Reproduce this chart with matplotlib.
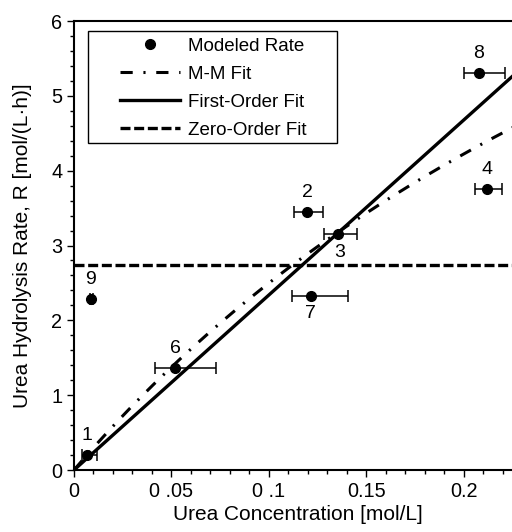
import numpy as np
import matplotlib
matplotlib.use("Agg")
import matplotlib.pyplot as plt
from matplotlib.patches import Rectangle
from matplotlib.lines import Line2D
from matplotlib.ticker import MultipleLocator

plt.rcParams['font.family'] = ['Liberation Sans', 'DejaVu Sans']

# ---------- data ----------
sample_id = ["1", "9", "6", "2", "3", "7", "8", "4"]
conc = [0.0067, 0.0087, 0.0518, 0.1195, 0.1354, 0.1215, 0.2077, 0.2118]
rate = [0.20, 2.29, 1.36, 3.45, 3.155, 2.33, 5.31, 3.76]
conc_lo = [0.0040, 0.0080, 0.0415, 0.1128, 0.1280, 0.1120, 0.2000, 0.2056]
conc_hi = [0.0120, 0.0095, 0.0728, 0.1277, 0.1450, 0.1405, 0.2210, 0.2195]

# fit parameters
vmax_mm = 13.66      # M-M Vmax
km_mm = 0.4466       # M-M Km
k_first = 23.4       # first-order rate constant
r_zero = 2.74        # zero-order rate

MM_DASH = (4, 3.5, 0.7, 3.5)
ZO_DASH = (3.0, 1.1)

XMAX = 0.23
fig = plt.figure(figsize=(5.12, 5.32), dpi=100)
ax = fig.add_axes([0.1445, 0.1165, XMAX * 1950 / 512, 0.844])

c = np.linspace(0, XMAX, 200)
ax.plot(c, vmax_mm * c / (km_mm + c), color="black", lw=2.2, dashes=MM_DASH)
ax.plot(c, k_first * c, color="black", lw=2.4)
ax.axhline(r_zero, color="black", lw=2.4, dashes=ZO_DASH)

conc = np.array(conc)
xerr = np.vstack([conc - np.array(conc_lo), np.array(conc_hi) - conc])
ax.errorbar(conc, rate, xerr=xerr, fmt="o", color="black", ms=7,
            elinewidth=1.1, capsize=4, capthick=1.1, zorder=5)

for sid, x, y in zip(sample_id, conc, rate):
    if sid == "3":
        off = (1, -13.5)
    elif sid == "7":
        off = (0, -13)
    else:
        off = (0, 14)
    ax.annotate(sid, (x, y), xytext=off, textcoords="offset points",
                ha="center", va="center", fontsize=14)

ax.set_xlim(0, XMAX)
ax.set_ylim(0, 6)
ax.xaxis.set_minor_locator(MultipleLocator(0.01))
ax.yaxis.set_major_locator(MultipleLocator(1))
ax.yaxis.set_minor_locator(MultipleLocator(0.2))
ax.set_xticks([0, 0.05, 0.1, 0.15, 0.2])
ax.set_xticklabels(["0", "0 .05", "0 .1", "0.15", "0.2"])

for s in ax.spines.values():
    s.set_linewidth(1.5)
ax.spines["right"].set_visible(False)
ax.tick_params(which="major", direction="out", length=5, width=1.0,
               labelsize=14.3, pad=3.5)
ax.tick_params(which="minor", direction="out", length=3, width=1.0)

ax.set_xlabel("Urea Concentration [mol/L]", fontsize=15, labelpad=3)
ax.set_ylabel("Urea Hydrolysis Rate, R [mol/(L\u00b7h)]", fontsize=15, labelpad=14)

# legend
handles = [
    Line2D([], [], ls="none", marker="o", color="black", ms=7),
    Line2D([], [], color="black", lw=2.2, dashes=MM_DASH),
    Line2D([], [], color="black", lw=2.4),
    Line2D([], [], color="black", lw=2.4, dashes=ZO_DASH),
]
names = ["Modeled Rate", "M-M Fit", "First-Order Fit", "Zero-Order Fit"]
ax.legend(handles, names, loc="upper left", bbox_to_anchor=(0.1026, 0.963),
          frameon=False, fontsize=13.5, borderpad=0, borderaxespad=0,
          handlelength=3.2, handletextpad=0.45, labelspacing=0.58)
ax.add_patch(Rectangle((0.0312, 0.7283), 0.555, 0.2494, transform=ax.transAxes,
                       fill=False, edgecolor="black", lw=1.0, zorder=6))

fig.savefig("out.png", dpi=100)
